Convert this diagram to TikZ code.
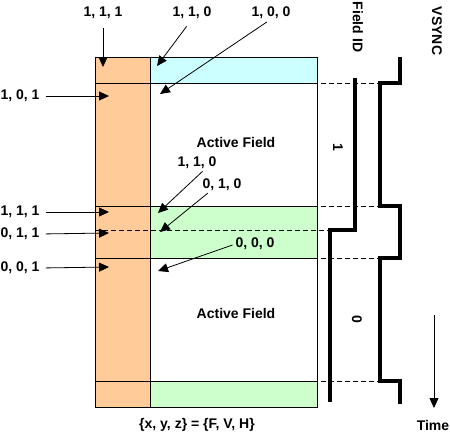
\documentclass[tikz,border=0pt]{standalone}
\usepackage{fontspec}
\setmainfont{Liberation Sans}
\usetikzlibrary{arrows.meta,calc}
\definecolor{orng}{HTML}{FFCC99}
\definecolor{lblue}{HTML}{CCFFFF}
\definecolor{lgreen}{HTML}{CCFFCC}
\begin{document}
\begin{tikzpicture}[x=1pt,y=-1pt,
  lbl/.style={font=\fontsize{14}{16}\selectfont\bfseries,inner sep=0pt},
  ptr/.style={line width=0.8pt,-{Triangle[length=10pt,width=9pt]}},
  thin/.style={line width=1pt},
  sig/.style={line width=3.8pt,line join=miter,line cap=butt},
  dsh/.style={line width=0.8pt,dash pattern=on 5pt off 3pt}]
\useasboundingbox (0,0) rectangle (450,432);
% fills
\fill[orng] (95,57) rectangle (150,407);
\fill[lblue] (150,57) rectangle (317,83);
\fill[lgreen] (150,206) rectangle (317,258);
\fill[lgreen] (150,381) rectangle (317,407);
% frame lines
\draw[thin] (95,57) rectangle (317,407);
\draw[thin] (150,57) -- (150,407);
\foreach \yy in {83,206,258,381} \draw[thin] (95,\yy) -- (317,\yy);
\draw[dsh] (95,230) -- (330,230);
\foreach \yy in {83,206,258,381} \draw[dsh] (321,\yy) -- (378,\yy);
% signals
\draw[sig] (355,78) -- (355,230) -- (330,230) -- (330,402);
\draw[sig] (400,57) -- (400,83) -- (380,83) -- (380,206) -- (400,206) -- (400,258) -- (380,258) -- (380,381) -- (400,381) -- (400,404);
% titles
\node[lbl,rotate=-90] (fid) at (358,27) {Field ID};
\node[lbl,rotate=-90] (vs) at (437,31) {VSYNC};
\node[lbl,rotate=-90] (one) at (338,147) {1};
\node[lbl,rotate=-90] (zero) at (357,319) {0};
\node[lbl] (af1) at (236,142) {Active Field};
\node[lbl] (af2) at (236,313) {Active Field};
\node[lbl] (eq) at (197,425) {\{x, y, z\} = \{F, V, H\}};
\node[lbl] (time) at (433,425) {Time};
\coordinate (tstart) at (434,315);
\coordinate (tend) at (434,408);
\draw[ptr] (tstart) -- (tend);
% labels
\node[lbl] (a111) at (103,13) {1, 1, 1};
\node[lbl] (a110) at (192,13) {1, 1, 0};
\node[lbl] (a100) at (271,13) {1, 0, 0};
\node[lbl] (a101) at (20,96) {1, 0, 1};
\node[lbl] (b110) at (197,163) {1, 1, 0};
\node[lbl] (b010) at (222,185) {0, 1, 0};
\node[lbl] (b000) at (255,244) {0, 0, 0};
\node[lbl] (c111) at (20,212) {1, 1, 1};
\node[lbl] (c011) at (20,234) {0, 1, 1};
\node[lbl] (c001) at (20,268) {0, 0, 1};
% tips
\coordinate (t111) at (103,67);
\coordinate (t110) at (157,66);
\coordinate (t100) at (160,94);
\coordinate (t101) at (109,96);
\coordinate (u110) at (158,213);
\coordinate (u010) at (160,232);
\coordinate (u000) at (158,271);
\coordinate (v111) at (109,212);
\coordinate (v011) at (109,233);
\coordinate (v001) at (109,267);
\draw[ptr,shorten <=9pt] (a111.south) -- (t111);
\draw[ptr,shorten <=9pt] (a110.south) -- (t110);
\draw[ptr,shorten <=5pt] (a100.south) -- (t100);
\draw[ptr,shorten <=6pt] (a101.east) -- (t101);
\draw[ptr,shorten <=3pt] ($(b110.south)!0.4!(b110.south east)$) -- (u110);
\draw[ptr,shorten <=3pt] ($(b010.south west)!0.4!(b010.south)$) -- (u010);
\draw[ptr,shorten <=3pt] (b000.west) -- (u000);
\draw[ptr,shorten <=6pt] (c111.east) -- (v111);
\draw[ptr,shorten <=6pt] (c011.east) -- (v011);
\draw[ptr,shorten <=6pt] (c001.east) -- (v001);
\end{tikzpicture}
\end{document}
